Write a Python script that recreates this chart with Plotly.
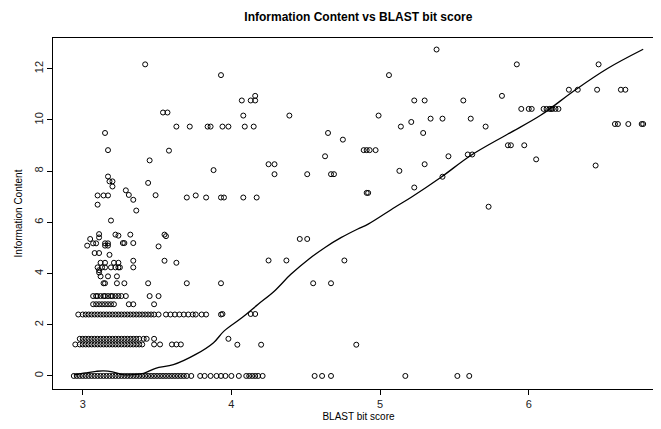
import plotly.graph_objects as go

# scattered points (BLAST bit score, information content)
sparse_x = [3.42, 3.93, 3.54, 3.57, 3.15, 3.63, 3.72, 3.84, 3.86, 3.17, 3.58, 3.45, 3.88,
            3.17, 3.18, 3.20, 3.20, 3.44, 3.29, 3.31, 3.34, 3.49, 3.10, 3.14, 3.17, 3.10,
            3.70, 3.76, 3.83, 3.93, 3.36, 3.19, 3.11, 3.11, 3.05, 3.03, 3.07, 3.09, 3.15,
            3.17, 3.15, 3.17, 3.22, 3.24, 3.32, 3.27, 3.28, 3.34, 3.51, 3.55, 3.56, 3.08,
            3.11, 3.18, 3.12, 3.15, 3.21, 3.24, 3.34, 3.55, 3.63, 3.10, 3.13, 3.15, 3.19,
            3.22, 3.24, 3.25, 3.11, 3.11, 3.34, 3.12, 3.17, 3.23,
            4.07, 4.13, 4.16, 4.16, 4.08, 4.39, 3.94, 3.98, 4.09, 4.15, 4.65, 4.75, 4.89,
            4.91, 4.63, 4.25, 4.29, 4.29, 4.51, 4.67, 4.69, 4.91, 3.95, 4.08, 4.17,
            4.46, 4.51, 4.25, 4.37, 4.76, 4.55, 4.67, 3.94, 4.13, 4.16, 3.98, 4.04, 4.20,
            4.84, 5.38, 5.92, 5.06, 5.23, 5.30, 5.56, 5.82, 4.99, 5.34, 5.42, 5.61, 5.14,
            5.21, 5.71, 5.29, 4.93, 4.97, 5.59, 5.62, 5.46, 5.86, 5.30, 5.13, 5.42, 4.92,
            5.23, 5.73, 6.47, 6.27, 6.33, 6.46, 6.62, 6.65, 5.95, 6.00, 6.02, 6.10, 6.12,
            6.14, 6.15, 6.16, 6.18, 6.20, 6.58, 6.60, 6.67, 6.76, 6.77, 5.88, 5.97, 6.05,
            6.45]
sparse_y = [12.17, 11.75, 10.29, 10.29, 9.49, 9.74, 9.74, 9.74, 9.74, 8.82, 8.80, 8.42, 8.04,
            7.79, 7.60, 7.60, 7.40, 7.54, 7.25, 7.07, 6.88, 7.06, 7.05, 7.05, 7.05, 6.69,
            6.97, 7.05, 6.97, 6.97, 6.46, 6.07, 5.54, 5.41, 5.35, 5.09, 5.18, 5.18, 5.18,
            5.18, 5.09, 5.09, 5.52, 5.48, 5.52, 5.19, 5.19, 5.19, 5.06, 5.52, 5.46, 4.80,
            4.80, 4.73, 4.42, 4.42, 4.42, 4.42, 4.50, 4.50, 4.42, 4.24, 4.24, 4.24, 4.24,
            4.24, 4.24, 4.24, 4.13, 4.04, 4.24, 3.89, 3.89, 3.89,
            10.76, 10.76, 10.76, 10.94, 10.17, 10.17, 9.74, 9.74, 9.74, 9.74, 9.49, 9.23, 8.82,
            8.82, 8.58, 8.27, 8.27, 7.88, 7.88, 7.88, 7.88, 7.15, 6.97, 6.97, 6.97,
            5.35, 5.35, 4.51, 4.51, 4.51, 3.62, 3.62, 2.42, 2.42, 2.42, 1.45, 1.22, 1.22,
            1.22, 12.75, 12.17, 11.75, 10.76, 10.76, 10.76, 10.94, 10.17, 10.05, 10.05, 10.05, 9.74,
            9.92, 9.74, 9.49, 8.82, 8.82, 8.65, 8.65, 8.58, 9.01, 8.27, 8.01, 7.78, 7.15,
            7.36, 6.61, 12.17, 11.18, 11.18, 11.18, 11.18, 11.18, 10.43, 10.43, 10.43, 10.43, 10.43,
            10.43, 10.43, 10.43, 10.43, 10.43, 9.84, 9.84, 9.84, 9.84, 9.84, 9.01, 9.01, 8.46,
            8.22]

# rows of points sharing one information-content level
row_3_62 = [3.14, 3.15, 3.23, 3.28, 3.44, 3.70, 3.93]
row_3_12 = [3.07, 3.09, 3.10, 3.12, 3.14, 3.15, 3.17, 3.19, 3.20, 3.22, 3.24, 3.26, 3.29,
            3.45, 3.51]
row_2_80 = [3.07, 3.09, 3.11, 3.13, 3.15, 3.17, 3.19, 3.21, 3.31, 3.34, 3.48]
row_2_40 = [2.97, 3.00, 3.02, 3.04, 3.06, 3.08, 3.10, 3.12, 3.14, 3.16, 3.18, 3.20, 3.22,
            3.24, 3.26, 3.28, 3.30, 3.32, 3.34, 3.36, 3.38, 3.40, 3.42, 3.44, 3.46, 3.48,
            3.51, 3.56, 3.59, 3.62, 3.65, 3.68, 3.71, 3.74, 3.76, 3.80, 3.83, 3.93]
row_1_45 = [2.98, 3.00, 3.02, 3.04, 3.06, 3.08, 3.10, 3.12, 3.14, 3.16, 3.18, 3.20, 3.22,
            3.24, 3.26, 3.28, 3.30, 3.32, 3.34, 3.36, 3.38, 3.41, 3.43, 3.48]
row_1_23 = [2.95, 2.98, 3.00, 3.02, 3.04, 3.06, 3.08, 3.10, 3.12, 3.14, 3.16, 3.18, 3.20,
            3.22, 3.24, 3.26, 3.28, 3.30, 3.32, 3.34, 3.36, 3.38, 3.40, 3.48, 3.52, 3.60,
            3.63, 3.66]
row_0 = [2.94, 2.96, 2.98, 3.00, 3.02, 3.04, 3.06, 3.08, 3.10, 3.12, 3.14, 3.16, 3.18,
         3.20, 3.22, 3.24, 3.26, 3.28, 3.30, 3.32, 3.34, 3.36, 3.38, 3.40, 3.42, 3.44,
         3.46, 3.48, 3.50, 3.52, 3.54, 3.56, 3.58, 3.60, 3.62, 3.64, 3.66, 3.68, 3.70,
         3.73, 3.79, 3.82, 3.86, 3.90, 3.93, 3.96, 4.00, 4.05, 4.10, 4.12, 4.14, 4.16,
         4.18, 4.21, 4.56, 4.61, 4.67, 5.17, 5.52, 5.60]
rows = [(3.62, row_3_62), (3.12, row_3_12), (2.80, row_2_80), (2.40, row_2_40),
        (1.45, row_1_45), (1.23, row_1_23), (0.0, row_0)]

# lowess smooth
smooth_x = [2.94, 3.02, 3.09, 3.14, 3.20, 3.27, 3.34, 3.41, 3.49, 3.61, 3.76, 3.88, 3.95,
            4.07, 4.18, 4.29, 4.40, 4.52, 4.63, 4.74, 4.85, 4.92, 5.10, 5.21, 5.41, 5.61,
            5.86, 6.08, 6.31, 6.53, 6.77]
smooth_y = [0.04, 0.12, 0.18, 0.20, 0.16, 0.05, 0.05, 0.10, 0.30, 0.44, 0.84, 1.30, 1.75,
            2.27, 2.80, 3.32, 3.97, 4.56, 5.02, 5.41, 5.74, 5.93, 6.59, 6.98, 7.76, 8.61,
            9.45, 10.18, 11.16, 12.01, 12.76]

xs = list(sparse_x)
ys = list(sparse_y)
for level, vals in rows:
    xs += vals
    ys += [level] * len(vals)

fig = go.Figure()
fig.add_trace(go.Scatter(x=xs, y=ys, mode="markers",
                         marker=dict(symbol="circle-open", size=5, color="black",
                                     line=dict(width=1, color="black"))))
fig.add_trace(go.Scatter(x=smooth_x, y=smooth_y, mode="lines",
                         line=dict(color="black", width=1.3, shape="spline")))

axis_style = dict(showline=True, mirror=True, linecolor="black", linewidth=1,
                  ticks="outside", ticklen=5, tickcolor="black", showgrid=False,
                  zeroline=False, tickfont=dict(size=11, color="#222"))

fig.update_layout(
    width=661, height=429,
    margin=dict(l=45, r=5, t=30, b=48),
    paper_bgcolor="white", plot_bgcolor="white",
    showlegend=False,
    font=dict(family="Liberation Sans, Arial", color="black"),
    title=dict(text="<b>Information Content vs BLAST bit score</b>", x=0.53, xanchor="center",
               y=0.98, yanchor="middle", font=dict(size=12)),
)
fig.update_xaxes(range=[2.80, 6.91], tickvals=[3, 4, 5, 6], title_text="BLAST bit score",
                 title_font=dict(size=10), title_standoff=3, **axis_style)
fig.update_yaxes(range=[-0.51, 13.2], tickvals=[0, 2, 4, 6, 8, 10, 12], tickangle=-90,
                 title_text="Information Content", title_font=dict(size=10),
                 title_standoff=8, **axis_style)

fig.write_html("out.html")
